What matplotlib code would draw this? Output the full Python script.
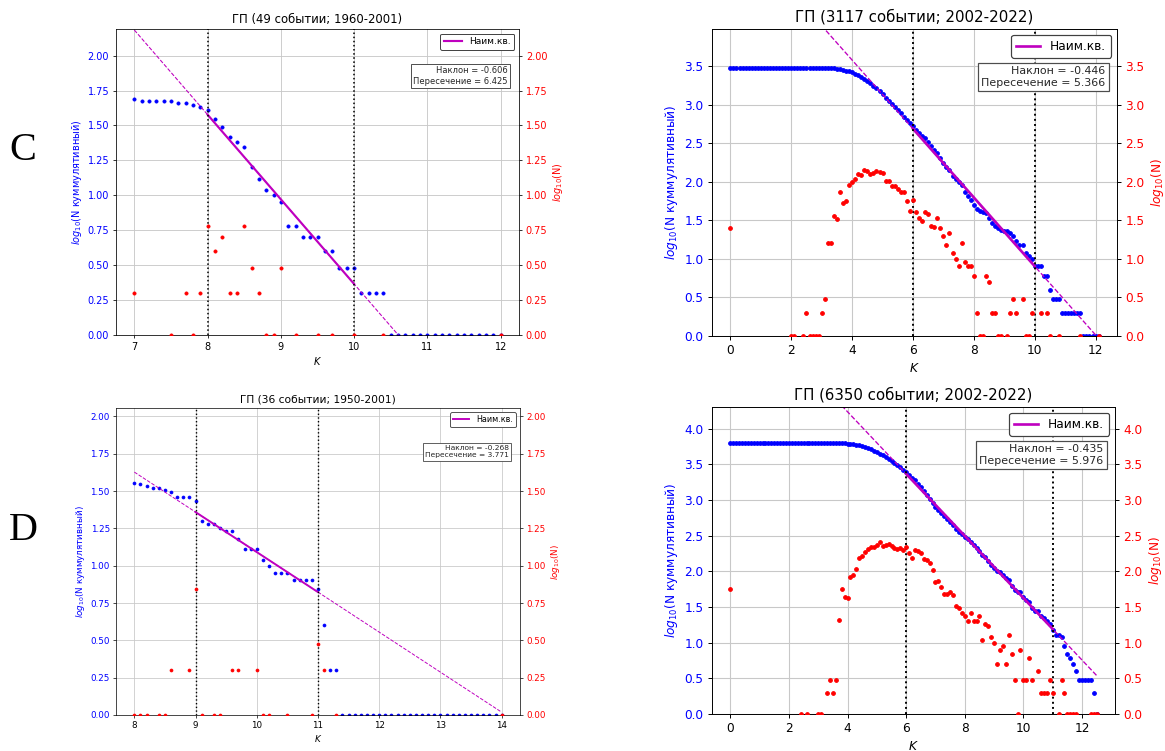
import numpy as np
import matplotlib
matplotlib.use('Agg')
import matplotlib.pyplot as plt

W, H = 1165, 751

# ---------------- data ----------------
# C, left panel (49 events; 1960-2001): K-class bins and counts per bin
cl_title = 'ГП (49 событии; 1960-2001)'
cl_k = [7.0, 7.5, 7.7, 7.8, 7.9, 8.0, 8.1, 8.2, 8.3, 8.4, 8.5, 8.6, 8.7, 8.8,
        8.9, 9.0, 9.2, 9.5, 9.7, 10.0, 10.4, 12.0]
cl_n = [2, 1, 2, 1, 2, 6, 4, 5, 2, 2, 6, 3, 2, 1, 1, 3, 1, 1, 1, 1, 1, 1]
cl_slope, cl_icpt = -0.606, 6.425
cl_bounds = [8, 10]
cl_xticks = [7, 8, 9, 10, 11, 12]
cl_yticks = [0.0, 0.25, 0.5, 0.75, 1.0, 1.25, 1.5, 1.75, 2.0]

# C, right panel (3117 events; 2002-2022)
cr_title = 'ГП (3117 событии; 2002-2022)'
cr_k = [0.0, 2.0, 2.1, 2.4, 2.5, 2.6, 2.7, 2.8, 2.9,
        3.0, 3.1, 3.2, 3.3, 3.4, 3.5, 3.6, 3.7, 3.8, 3.9,
        4.0, 4.1, 4.2, 4.3, 4.4, 4.5, 4.6, 4.7, 4.8, 4.9,
        5.0, 5.1, 5.2, 5.3, 5.4, 5.5, 5.6, 5.7, 5.8, 5.9,
        6.0, 6.1, 6.2, 6.3, 6.4, 6.5, 6.6, 6.7, 6.8, 6.9,
        7.0, 7.1, 7.2, 7.3, 7.4, 7.5, 7.6, 7.7, 7.8, 7.9,
        8.0, 8.1, 8.2, 8.3, 8.4, 8.5, 8.6, 8.7, 8.8, 8.9,
        9.1, 9.2, 9.3, 9.4, 9.6, 9.7, 9.8, 9.9,
        10.2, 10.4, 10.5, 10.8, 11.5, 12.1]
cr_n = [25, 1, 1, 1, 2, 1, 1, 1, 1,
        2, 3, 16, 16, 36, 33, 73, 54, 56, 91,
        99, 109, 128, 122, 142, 138, 126, 131, 138, 135,
        132, 104, 102, 89, 88, 81, 73, 75, 56, 42,
        59, 41, 34, 31, 41, 38, 27, 26, 34, 25,
        20, 15, 22, 12, 10, 8, 16, 9, 8, 8,
        6, 2, 1, 1, 6, 5, 2, 2, 1, 1,
        1, 2, 3, 2, 3, 1, 1, 2,
        2, 2, 1, 1, 1, 1]
cr_slope, cr_icpt = -0.446, 5.366
cr_bounds = [6, 10]
cr_xticks = [0, 2, 4, 6, 8, 10, 12]
cr_yticks = [0.0, 0.5, 1.0, 1.5, 2.0, 2.5, 3.0, 3.5]

# D, left panel (36 events; 1950-2001)
dl_title = 'ГП (36 событии; 1950-2001)'
dl_k = [8.0, 8.1, 8.2, 8.4, 8.5, 8.6, 8.9, 9.0, 9.1, 9.3, 9.4, 9.6, 9.7,
        10.0, 10.1, 10.2, 10.5, 10.9, 11.0, 11.1, 11.3, 14.0]
dl_n = [1, 1, 1, 1, 1, 2, 2, 7, 1, 1, 1, 2, 2, 2, 1, 1, 1, 1, 3, 2, 1, 1]
dl_slope, dl_icpt = -0.268, 3.771
dl_bounds = [9, 11]
dl_xticks = [8, 9, 10, 11, 12, 13, 14]
dl_yticks = [0.0, 0.25, 0.5, 0.75, 1.0, 1.25, 1.5, 1.75, 2.0]

# D, right panel (6350 events; 2002-2022)
dr_title = 'ГП (6350 событии; 2002-2022)'
dr_k = [0.0, 2.4, 2.6, 3.0, 3.1, 3.3, 3.4, 3.5, 3.6, 3.7, 3.8, 3.9,
        4.0, 4.1, 4.2, 4.3, 4.4, 4.5, 4.6, 4.7, 4.8, 4.9,
        5.0, 5.1, 5.2, 5.3, 5.4, 5.5, 5.6, 5.7, 5.8, 5.9,
        6.0, 6.1, 6.2, 6.3, 6.4, 6.5, 6.6, 6.7, 6.8, 6.9,
        7.0, 7.1, 7.2, 7.3, 7.4, 7.5, 7.6, 7.7, 7.8, 7.9,
        8.0, 8.1, 8.2, 8.3, 8.4, 8.5, 8.6, 8.7, 8.8, 8.9,
        9.0, 9.1, 9.2, 9.3, 9.4, 9.5, 9.6, 9.7, 9.8, 9.9,
        10.0, 10.1, 10.2, 10.3, 10.5, 10.6, 10.7, 10.8, 10.9,
        11.0, 11.2, 11.3, 11.4, 11.5, 11.6, 11.7, 11.8, 12.3, 12.4, 12.5]
dr_n = [56, 1, 1, 1, 1, 2, 3, 2, 3, 21, 56, 43,
        42, 83, 90, 108, 155, 162, 185, 205, 217, 220,
        236, 260, 229, 236, 240, 228, 212, 205, 212, 196,
        218, 182, 155, 198, 190, 178, 150, 146, 130, 106,
        71, 72, 61, 48, 48, 51, 46, 33, 31, 26,
        24, 20, 26, 20, 20, 24, 11, 18, 17, 12,
        10, 5, 8, 9, 5, 13, 7, 3, 1, 8,
        3, 3, 6, 3, 4, 2, 2, 2, 3,
        2, 1, 3, 2, 1, 1, 1, 1, 1, 1, 1]
dr_slope, dr_icpt = -0.435, 5.976
dr_bounds = [6, 11]
dr_xticks = [0, 2, 4, 6, 8, 10, 12]
dr_yticks = [0.0, 0.5, 1.0, 1.5, 2.0, 2.5, 3.0, 3.5, 4.0]

# ---------------- drawing ----------------
fig = plt.figure(figsize=(W / 100, H / 100), dpi=100)


def rect_px(l, r, t, b):
    return [l / W, 1 - b / H, (r - l) / W, (b - t) / H]


def panel(rect, title, k, n, slope, icpt, bounds, xticks, yticks, yfmt,
          s, fs_title, fs_tick, fs_box, fs_leg, ms):
    k = np.asarray(k, float)
    n = np.asarray(n, float)
    ax = fig.add_axes(rect)
    ax2 = ax.twinx()
    grid = np.round(np.arange(k.min(), k.max() + 0.05, 0.1), 1)
    cum = np.array([n[k >= g - 1e-6].sum() for g in grid])
    top = np.log10(n.sum()) + 0.5

    ax.grid(True, color='#c8c8c8', lw=0.9 * s)
    ax.set_axisbelow(True)
    ax.plot(grid, np.log10(cum), '.', color='b', ms=ms, mew=0.8 * s)
    xx = np.array([k.min(), k.max()])
    ax.plot(xx, slope * xx + icpt, '--', color='m', lw=1.1 * s)
    xs = np.array(bounds, float)
    ax.plot(xs, slope * xs + icpt, '-', color='m', lw=2.2 * s, label='Наим.кв.')
    for b in bounds:
        ax.axvline(b, color='k', ls=':', lw=1.6 * s)
    ax2.plot(k, np.log10(n), '.', color='r', ms=ms, mew=0.8 * s)

    marg = 0.05 * (k.max() - k.min())
    for a in (ax, ax2):
        a.set_ylim(0, top)
        a.set_xlim(k.min() - marg, k.max() + marg)
        a.tick_params(labelsize=fs_tick, length=3.5 * s, width=0.8 * s, pad=3.5 * s)
        for sp in a.spines.values():
            sp.set_linewidth(0.8 * s)
    ax2.spines['top'].set_visible(False)
    ax2.spines['bottom'].set_visible(False)
    ax2.spines['left'].set_visible(False)
    ax.spines['right'].set_visible(False)
    ax.set_xticks(xticks)
    ax.set_yticks(yticks)
    ax2.set_yticks(yticks)
    ax.set_yticklabels([yfmt % v for v in yticks])
    ax2.set_yticklabels([yfmt % v for v in yticks])
    ax.tick_params(axis='y', labelcolor='b')
    ax2.tick_params(axis='y', labelcolor='r')
    ax.set_xlabel('$K$', fontsize=fs_tick, labelpad=3.5 * s)
    ax.set_ylabel('$log_{10}$(N куммулятивный)', color='b', fontsize=fs_tick,
                  labelpad=4 * s)
    ax2.set_ylabel('$log_{10}$(N)', color='r', fontsize=fs_tick, labelpad=4 * s)
    ax.set_title(title, fontsize=fs_title, pad=6 * s)

    leg = ax2.legend(*ax.get_legend_handles_labels(), loc='upper right',
                     fontsize=fs_leg, framealpha=1, edgecolor='0.25',
                     borderaxespad=0.5)
    leg.get_frame().set_linewidth(1.0 * s)
    ax2.text(0.972, 0.878, 'Наклон = %.3f\nПересечение = %.3f' % (slope, icpt),
             transform=ax2.transAxes, ha='right', va='top', multialignment='right',
             fontsize=fs_box, color='0.15',
             bbox=dict(boxstyle='square,pad=0.3', fc='white', ec='0.3', lw=1.0 * s))
    return ax, ax2


panel(rect_px(116, 519, 29, 335), cl_title, cl_k, cl_n, cl_slope, cl_icpt,
      cl_bounds, cl_xticks, cl_yticks, '%.2f', 0.7, 8.4, 7.0, 6.0, 6.5, 4.6)
panel(rect_px(712, 1117, 29, 336), cr_title, cr_k, cr_n, cr_slope, cr_icpt,
      cr_bounds, cr_xticks, cr_yticks, '%.1f', 0.87, 10.8, 8.7, 7.9, 8.7, 5.4)
panel(rect_px(116, 520, 408, 715), dl_title, dl_k, dl_n, dl_slope, dl_icpt,
      dl_bounds, dl_xticks, dl_yticks, '%.2f', 0.63, 7.7, 6.3, 5.4, 5.8, 4.3)
panel(rect_px(712, 1115, 407, 714), dr_title, dr_k, dr_n, dr_slope, dr_icpt,
      dr_bounds, dr_xticks, dr_yticks, '%.1f', 0.87, 10.8, 8.7, 7.9, 8.7, 5.4)

fig.text(23 / W, 1 - 151 / H, 'C', family='Liberation Serif', fontsize=29,
         ha='center', va='center')
fig.text(23 / W, 1 - 531 / H, 'D', family='Liberation Serif', fontsize=29,
         ha='center', va='center')

fig.savefig('out.png', dpi=100, facecolor='white')
